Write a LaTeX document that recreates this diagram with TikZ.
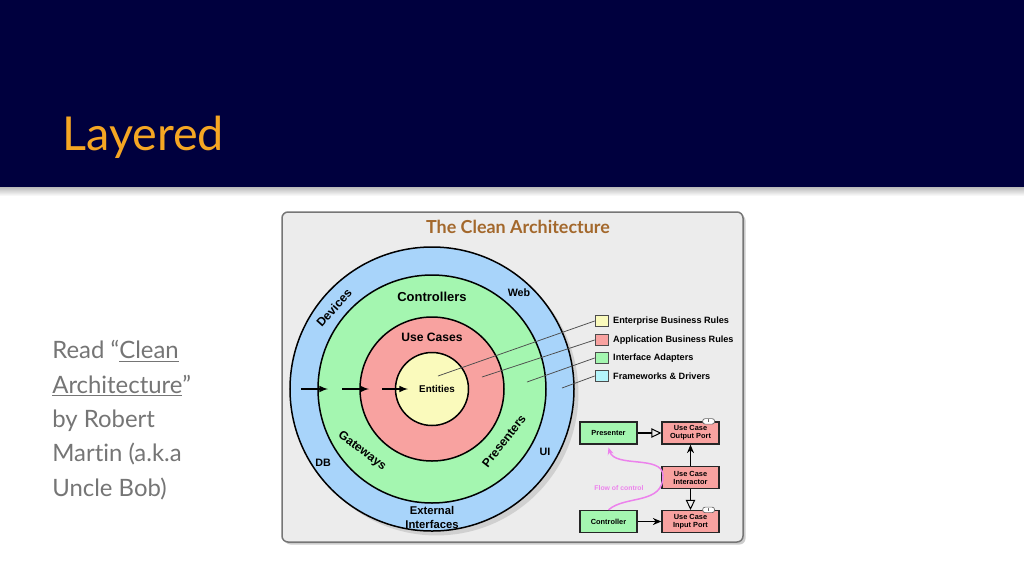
\documentclass[tikz,border=0pt]{standalone}
\usepackage{fontspec}
\setmainfont{Lato}[Ligatures=NoCommon]
\newfontfamily\helv{Liberation Sans}
\usepackage{tikz}
\usetikzlibrary{positioning}
\usetikzlibrary{shadows}
\usetikzlibrary{arrows.meta}
\tikzset{>=latex}
\definecolor{navy}{RGB}{0,0,62}
\definecolor{gold}{RGB}{245,166,35}
\definecolor{slate}{RGB}{117,117,117}
\definecolor{panel}{RGB}{236,236,236}
\definecolor{brownT}{RGB}{163,104,44}
\definecolor{ringB}{RGB}{168,212,250}
\definecolor{ringG}{RGB}{164,246,176}
\definecolor{ringR}{RGB}{248,162,160}
\definecolor{ringY}{RGB}{250,250,188}
\definecolor{keyC}{RGB}{180,244,250}
\definecolor{flowP}{RGB}{236,130,236}
\tikzset{
    ring/.style={circle, draw=black, line width=0.3mm, inner sep=0pt},
    lbl/.style={font=\helv\bfseries\fontsize{6.9}{7}\selectfont, inner sep=0pt},
    key/.style={draw=black!70, line width=0.15mm, minimum width=2.6mm, minimum height=2.2mm, inner sep=0pt},
    keytext/.style={font=\helv\bfseries\fontsize{5.2}{6}\selectfont, anchor=west, inner sep=0pt},
    pointer/.style={black!70, line width=0.15mm},
    box/.style={draw=black!85, line width=0.25mm, minimum width=11.4mm, minimum height=4.4mm,
        inner sep=0pt, align=center, font=\helv\bfseries\fontsize{4.2}{4.6}\selectfont},
    tag/.style={draw=black!60, fill=white, rounded corners=0.5mm, inner sep=0pt,
        minimum width=2.4mm, minimum height=1.1mm, font=\helv\bfseries\fontsize{2.4}{2.4}\selectfont},
    realizes/.style={-{Triangle[open, length=2mm, width=1.9mm, line width=0.2mm]}, line width=0.25mm},
    uses/.style={-{Stealth[length=1.7mm, width=1.4mm]}, line width=0.25mm},
}
\begin{document}
\begin{tikzpicture}[x=0.2mm, y=-0.2mm]
    \useasboundingbox (0, 0) rectangle (1024, 576);
    \fill[white] (0, 0) rectangle (1024, 576);
    \shade[top color=black!30, bottom color=white] (0, 186) rectangle (1024, 196);
    \fill[navy] (0, 0) rectangle (1024, 187);
    \node (title) [anchor=base west, inner sep=0pt, text=gold, font=\fontsize{26.6}{30}\selectfont]
        at (62, 150) {Layered};
    \node (note) [anchor=north west, inner sep=0pt, align=left, text=slate,
        font=\fontsize{13.6}{19.6}\selectfont] at (52, 340)
        {Read “\underline{Clean}\\\underline{Architecture}”\\by Robert\\Martin (a.k.a\\Uncle Bob)};

    \draw[panel!50!black, fill=panel, line width=0.3mm, rounded corners=1.2mm,
        drop shadow={shadow xshift=0.5mm, shadow yshift=-0.5mm, opacity=0.4}]
        (282, 212) rectangle (743, 542);
    \node (head) [inner sep=0pt, text=brownT, font=\bfseries\fontsize{10.2}{11}\selectfont]
        at (518, 227) {The Clean Architecture};

    \node (fw) [ring, fill=ringB, minimum size=56.8mm, drop shadow={opacity=0.25}] at (432, 389) {};
    \node (ia) [ring, fill=ringG, minimum size=45.6mm] at (432, 389) {};
    \node (uc) [ring, fill=ringR, minimum size=28.8mm] at (432, 389) {};
    \node (ent) [ring, fill=ringY, minimum size=14.6mm] at (432, 389) {};

    \node (ctrl) [lbl, font=\helv\bfseries\fontsize{7.4}{8}\selectfont] at (432, 297) {Controllers};
    \node (cases) [lbl] at (432, 337) {Use Cases};
    \node (entl) [lbl, font=\helv\bfseries\fontsize{5.6}{6}\selectfont] at (437, 389) {Entities};
    \node (web) [lbl, font=\helv\bfseries\fontsize{6.1}{7}\selectfont] at (519, 293) {Web};
    \node (ui) [lbl, font=\helv\bfseries\fontsize{6.1}{7}\selectfont] at (545, 452) {UI};
    \node (db) [lbl, font=\helv\bfseries\fontsize{6.1}{7}\selectfont] at (323, 463) {DB};
    \node (dev) [lbl, rotate=48] at (334, 308) {Devices};
    \node (gate) [lbl, rotate=-37] at (362, 451) {Gateways};
    \node (pres) [lbl, rotate=52] at (504, 441) {Presenters};
    \node (ext) [lbl, align=center, font=\helv\bfseries\fontsize{6.4}{8}\selectfont]
        at (432, 517) {External\\Interfaces};

    \coordinate (a1) at (301, 389);
    \coordinate (b1) at (328, 389);
    \coordinate (a2) at (342, 389);
    \coordinate (b2) at (369, 389);
    \coordinate (a3) at (382, 389);
    \coordinate (b3) at (408, 389);
    \foreach \i in {1,2,3}
        \draw[->, line width=0.25mm] (a\i) -- (b\i);

    \node (kE) [key, fill=ringY] at (601.5, 321) {};
    \node (kA) [key, fill=ringR] at (601.5, 340) {};
    \node (kI) [key, fill=ringG] at (601.5, 358) {};
    \node (kF) [key, fill=keyC] at (601.5, 376) {};
    \node (tE) [keytext, right=0.9mm of kE] {Enterprise Business Rules};
    \node (tA) [keytext, right=0.9mm of kA] {Application Business Rules};
    \node (tI) [keytext, right=0.9mm of kI] {Interface Adapters};
    \node (tF) [keytext, right=0.9mm of kF] {Frameworks \& Drivers};
    \coordinate (pE) at (438, 376);
    \coordinate (pA) at (482, 377);
    \coordinate (pI) at (527, 382);
    \coordinate (pF) at (562, 388);
    \draw[pointer] (pE) -- (kE.west);
    \draw[pointer] (pA) -- (kA.west);
    \draw[pointer] (pI) -- (kI.west);
    \draw[pointer] (pF) -- (kF.west);

    \node (presenter) [box, fill=ringG] at (608.5, 433) {Presenter};
    \node (outport) [box, fill=ringR] at (690.5, 433) {Use Case\\Output Port};
    \node (interactor) [box, fill=ringR] at (690.5, 477.5) {Use Case\\Interactor};
    \node (controller) [box, fill=ringG] at (608.5, 521.5) {Controller};
    \node (inport) [box, fill=ringR] at (690.5, 521.5) {Use Case\\Input Port};
    \node (otag) [tag] at ([xshift=-2.2mm]outport.north east) {I};
    \node (itag) [tag] at ([xshift=-2.2mm]inport.north east) {I};

    \draw[realizes] (presenter) -- (outport);
    \draw[uses] (interactor) -- (outport);
    \draw[realizes] (interactor) -- (inport);
    \draw[uses] (controller) -- (inport);

    \draw[flowP, line width=0.3mm, -{Stealth[length=1.4mm, width=1.2mm]}]
        (controller.north) .. controls (625, 495) and (664, 505) .. (663, 475)
        .. controls (662, 455) and (615, 468) .. ([yshift=-0.6mm]presenter.south);
    \node (flow) [inner sep=0pt, text=flowP, font=\helv\bfseries\fontsize{3.9}{4}\selectfont]
        at (619, 488) {Flow of control};
\end{tikzpicture}
\end{document}
